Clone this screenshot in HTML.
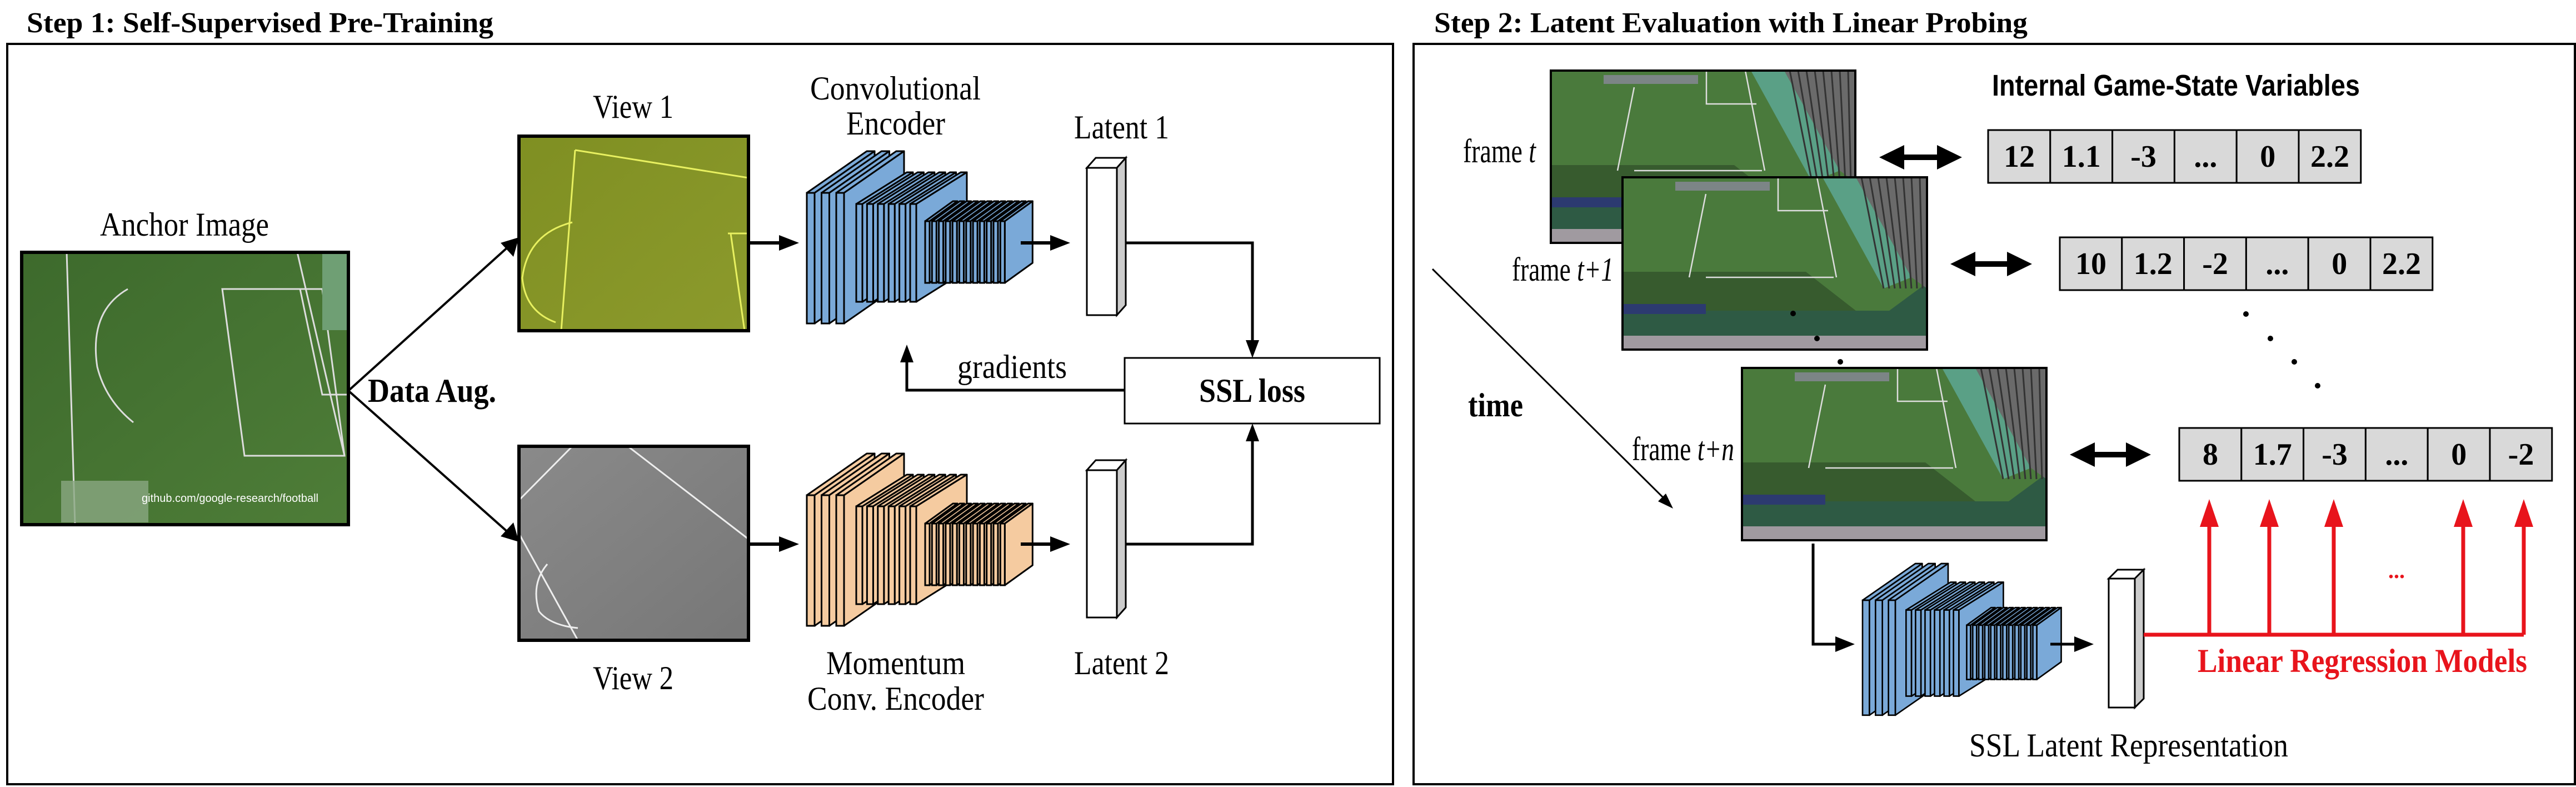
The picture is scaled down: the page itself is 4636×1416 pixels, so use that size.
<!DOCTYPE html>
<html><head><meta charset="utf-8">
<style>
html,body{margin:0;padding:0;background:#fff;}
svg{display:block;}
.t{font-family:"Liberation Serif",serif;fill:#000;}
</style></head>
<body>
<svg id="s" xmlns="http://www.w3.org/2000/svg" width="4636" height="1416" viewBox="0 0 4636 1416">
<defs>
<linearGradient id="grass" x1="0" y1="0" x2="1" y2="1"><stop offset="0" stop-color="#3d6a2c"/><stop offset="1" stop-color="#4e7d38"/></linearGradient>
<linearGradient id="v1" x1="0" y1="0" x2="1" y2="1"><stop offset="0" stop-color="#7f8f22"/><stop offset="1" stop-color="#8c9a2c"/></linearGradient>
<linearGradient id="v2" x1="0" y1="0" x2="1" y2="1"><stop offset="0" stop-color="#8a8a8a"/><stop offset="1" stop-color="#777"/></linearGradient>
</defs>

<text class="t" x="48" y="58" font-size="52" font-weight="bold" textLength="840" lengthAdjust="spacingAndGlyphs">Step 1: Self-Supervised Pre-Training</text>
<text class="t" x="2581" y="58" font-size="52" font-weight="bold" textLength="1068" lengthAdjust="spacingAndGlyphs">Step 2: Latent Evaluation with Linear Probing</text>

<rect x="13" y="79" width="2494" height="1332" fill="none" stroke="#000" stroke-width="4"/>
<rect x="2544" y="79" width="2090" height="1332" fill="none" stroke="#000" stroke-width="4"/>

<g>
<rect x="39" y="454" width="588" height="490" fill="url(#grass)"/>
<path d="M120,454 L135,944" stroke="#ddd" stroke-width="3" fill="none"/>
<path d="M230,520 Q160,560 175,660 Q190,720 240,760" stroke="#ddd" stroke-width="3" fill="none"/>
<path d="M400,520 L440,820 L620,820 L580,520 Z" stroke="#ddd" stroke-width="3" fill="none"/>
<path d="M540,520 L580,710 L626,710" stroke="#ddd" stroke-width="3" fill="none"/>
<path d="M535,454 L620,820" stroke="#ddd" stroke-width="3" fill="none"/>
<rect x="580" y="454" width="47" height="140" fill="#6f9f74"/>
<rect x="110" y="865" width="157" height="75" fill="#8aa882" opacity="0.8"/>
<text x="255" y="903" font-family="Liberation Sans,sans-serif" font-size="20" fill="#fff">github.com/google-research/football</text>
<rect x="39" y="454" width="588" height="490" fill="none" stroke="#000" stroke-width="6"/>
</g>
<text class="t" x="180" y="424" font-size="60" textLength="304" lengthAdjust="spacingAndGlyphs">Anchor Image</text>

<rect x="934" y="245" width="413" height="350" fill="url(#v1)"/>
<path d="M1035,270 L1010,595 M1035,270 L1347,320 M1030,400 Q950,420 940,500 Q945,560 1000,580 M1310,420 L1347,420 M1315,420 L1340,595" stroke="#e8f060" stroke-width="3" fill="none"/>
<rect x="934" y="245" width="413" height="350" fill="none" stroke="#000" stroke-width="6"/>
<text class="t" x="1067" y="212" font-size="60" textLength="145" lengthAdjust="spacingAndGlyphs">View 1</text>

<rect x="934" y="803" width="413" height="349" fill="url(#v2)"/>
<path d="M934,900 L1030,803 M1130,803 L1347,970 M934,960 L1040,1152 M985,1015 Q955,1050 970,1100 Q990,1125 1040,1130" stroke="#eee" stroke-width="3" fill="none"/>
<rect x="934" y="803" width="413" height="349" fill="none" stroke="#000" stroke-width="6"/>
<text class="t" x="1067" y="1240" font-size="60" textLength="145" lengthAdjust="spacingAndGlyphs">View 2</text>

<line x1="627" y1="703" x2="918" y2="441" stroke="#000" stroke-width="4"/>
<line x1="627" y1="703" x2="918" y2="961" stroke="#000" stroke-width="4"/>
<path d="M934,427 L924,462 L901,437Z" fill="#000"/>
<path d="M934,975 L901,965 L924,940Z" fill="#000"/>
<text class="t" x="662" y="723" font-size="60" font-weight="bold" textLength="231" lengthAdjust="spacingAndGlyphs">Data Aug.</text>

<g id="encB" transform="translate(1452,272)"></g>
<g id="encO" transform="translate(1452,816)"></g>
<g id="encR" transform="translate(3352,1014) scale(0.88)"></g>

<text class="t" x="1458" y="179" font-size="60" textLength="307" lengthAdjust="spacingAndGlyphs">Convolutional</text>
<text class="t" x="1523" y="242" font-size="60" textLength="178" lengthAdjust="spacingAndGlyphs">Encoder</text>
<text class="t" x="1487" y="1213" font-size="60" textLength="250" lengthAdjust="spacingAndGlyphs">Momentum</text>
<text class="t" x="1453" y="1277" font-size="60" textLength="318" lengthAdjust="spacingAndGlyphs">Conv. Encoder</text>

<g stroke="#000" stroke-width="6" fill="none">
<line x1="1349" y1="437" x2="1404" y2="437"/><line x1="1349" y1="979" x2="1404" y2="979"/>
<line x1="1837" y1="437" x2="1892" y2="437"/><line x1="1837" y1="979" x2="1892" y2="979"/>
</g>
<g fill="#000">
<path d="M1402,423 L1438,437 L1402,451Z"/><path d="M1402,965 L1438,979 L1402,993Z"/>
<path d="M1890,423 L1926,437 L1890,451Z"/><path d="M1890,965 L1926,979 L1890,993Z"/>
</g>

<g stroke="#000" stroke-width="3">
<path d="M1956,302 L1972,284 L2026,284 L2010,302Z" fill="#fff"/>
<path d="M2010,302 L2026,284 L2026,549 L2010,567Z" fill="#ccc"/>
<rect x="1956" y="302" width="54" height="265" fill="#fff"/>
<path d="M1956,846 L1972,828 L2026,828 L2010,846Z" fill="#fff"/>
<path d="M2010,846 L2026,828 L2026,1093 L2010,1111Z" fill="#ccc"/>
<rect x="1956" y="846" width="54" height="265" fill="#fff"/>
</g>
<text class="t" x="1933" y="249" font-size="60" textLength="171" lengthAdjust="spacingAndGlyphs">Latent 1</text>
<text class="t" x="1933" y="1213" font-size="60" textLength="171" lengthAdjust="spacingAndGlyphs">Latent 2</text>

<g stroke="#000" stroke-width="5" fill="none">
<polyline points="2026,437 2254,437 2254,615"/>
<polyline points="2026,979 2254,979 2254,792"/>
<polyline points="2024,702 1632,702 1632,650"/>
</g>
<g fill="#000">
<path d="M2242,612 L2254,644 L2266,612Z"/>
<path d="M2242,794 L2254,762 L2266,794Z"/>
<path d="M1620,652 L1632,620 L1644,652Z"/>
</g>
<rect x="2024" y="644" width="459" height="118" fill="#fff" stroke="#000" stroke-width="3"/>
<text class="t" x="2158" y="723" font-size="60" font-weight="bold" textLength="191" lengthAdjust="spacingAndGlyphs">SSL loss</text>
<text class="t" x="1723" y="680" font-size="60" textLength="197" lengthAdjust="spacingAndGlyphs">gradients</text>

<g id="frames"></g>

<text class="t" x="2633" y="292" font-size="60" textLength="131" lengthAdjust="spacingAndGlyphs">frame <tspan font-style="italic">t</tspan></text>
<text class="t" x="2721" y="505" font-size="60" textLength="183" lengthAdjust="spacingAndGlyphs">frame <tspan font-style="italic">t+1</tspan></text>
<text class="t" x="2937" y="828" font-size="60" textLength="184" lengthAdjust="spacingAndGlyphs">frame <tspan font-style="italic">t+n</tspan></text>
<text class="t" x="2642" y="749" font-size="60" font-weight="bold" textLength="99" lengthAdjust="spacingAndGlyphs">time</text>
<line x1="2578" y1="484" x2="3000" y2="902" stroke="#000" stroke-width="3"/>
<path d="M3011,915 L2984,902 L2998,888Z" fill="#000"/>

<g fill="#000">
<circle cx="3227" cy="564" r="5"/><circle cx="3270" cy="609" r="5"/><circle cx="3312" cy="651" r="5"/>
<circle cx="4042" cy="565" r="5"/><circle cx="4086" cy="609" r="5"/><circle cx="4129" cy="651" r="5"/><circle cx="4171" cy="694" r="5"/>
</g>

<text x="3585" y="172" font-family="Liberation Sans,sans-serif" font-size="54" font-weight="bold" textLength="662" lengthAdjust="spacingAndGlyphs">Internal Game-State Variables</text>

<g id="cells"></g>
<g id="darr"></g>

<polyline points="3263,978 3263,1159 3305,1159" stroke="#000" stroke-width="5" fill="none"/>
<path d="M3303,1145 L3338,1159 L3303,1173Z" fill="#000"/>
<line x1="3690" y1="1159" x2="3735" y2="1159" stroke="#000" stroke-width="5"/>
<path d="M3733,1145 L3768,1159 L3733,1173Z" fill="#000"/>
<g stroke="#000" stroke-width="3">
<path d="M3795,1041 L3811,1025 L3858,1025 L3842,1041Z" fill="#fff"/>
<path d="M3842,1041 L3858,1025 L3858,1257 L3842,1273Z" fill="#ccc"/>
<rect x="3795" y="1041" width="47" height="232" fill="#fff"/>
</g>
<text class="t" x="3544" y="1361" font-size="60" textLength="574" lengthAdjust="spacingAndGlyphs">SSL Latent Representation</text>

<g stroke="#e8141c" stroke-width="7" fill="none">
<polyline points="3858,1142 4542,1142"/>
<line x1="3976" y1="1142" x2="3976" y2="940"/><line x1="4084" y1="1142" x2="4084" y2="940"/><line x1="4200" y1="1142" x2="4200" y2="940"/><line x1="4433" y1="1142" x2="4433" y2="940"/><line x1="4542" y1="1142" x2="4542" y2="940"/>
</g>
<g fill="#e8141c">
<path d="M3959,948 L3976,898 L3993,948Z"/><path d="M4067,948 L4084,898 L4101,948Z"/><path d="M4183,948 L4200,898 L4217,948Z"/><path d="M4416,948 L4433,898 L4450,948Z"/><path d="M4525,948 L4542,898 L4559,948Z"/>
</g>
<text x="4298" y="1040" font-family="Liberation Serif,serif" font-size="40" font-weight="bold" fill="#e8141c">...</text>
<text x="3955" y="1209" font-family="Liberation Serif,serif" font-size="60" font-weight="bold" fill="#e8141c" textLength="593" lengthAdjust="spacingAndGlyphs">Linear Regression Models</text>
</svg>
<script>
var NS="http://www.w3.org/2000/svg";
function el(p,tag,a){var e=document.createElementNS(NS,tag);for(var k in a)e.setAttribute(k,a[k]);p.appendChild(e);return e;}
function enc(id,col){
 var g=document.getElementById(id);
 var groups=[[3,0,26.5,14,75,235,108,75],[6,89,19.4,11,95,176,91,57],[12,213,12.3,8,126,111,50,36]];
 groups.forEach(function(G){
  for(var i=0;i<G[0];i++){
   var x=G[1]+i*G[2],w=G[3],t=G[4],h=G[5],dx=G[6],dy=G[7];
   var st={fill:col,stroke:"#000","stroke-width":3,"stroke-linejoin":"round"};
   st.d="M"+x+","+t+" L"+(x+dx)+","+(t-dy)+" L"+(x+w+dx)+","+(t-dy)+" L"+(x+w)+","+t+"Z";el(g,"path",st);
   st.d="M"+(x+w)+","+t+" L"+(x+w+dx)+","+(t-dy)+" L"+(x+w+dx)+","+(t-dy+h)+" L"+(x+w)+","+(t+h)+"Z";el(g,"path",st);
   el(g,"rect",{x:x,y:t,width:w,height:h,fill:col,stroke:"#000","stroke-width":3});
  }
 });
}
enc("encB","#7aa9d8");enc("encO","#f5cba0");enc("encR","#7aa9d8");
function frame(x,y){
 var g=el(document.getElementById("frames"),"g",{transform:"translate("+x+","+y+")"});
 var W=548,H=310;
 el(g,"rect",{x:0,y:0,width:W,height:H,fill:"#4a7a3c"});
 el(g,"path",{d:"M0,170 L330,170 L420,240 L0,240Z",fill:"#2f4f28",opacity:"0.7"});
 el(g,"path",{d:"M0,240 L480,240 L548,190 L548,310 L0,310Z",fill:"#2e5a44"});
 el(g,"rect",{x:0,y:285,width:W,height:25,fill:"#a09aa0"});
 el(g,"path",{d:"M360,0 L420,0 L520,180 L470,200 Z",fill:"#5aa086"});
 el(g,"path",{d:"M420,0 L548,0 L548,200 L520,180 Z",fill:"#6a6a6a"});
 for(var i=0;i<8;i++){el(g,"line",{x1:430+i*15,y1:0,x2:470+i*10,y2:200,stroke:"#333","stroke-width":3});}
 el(g,"rect",{x:0,y:228,width:150,height:18,fill:"#2c3a70"});
 el(g,"path",{d:"M150,30 L120,180 M150,180 L380,180 M350,0 L385,180 M280,0 L280,60 L370,60",stroke:"#ddd","stroke-width":2.5,fill:"none"});
 el(g,"rect",{x:95,y:8,width:170,height:16,fill:"#889",opacity:"0.8"});
 el(g,"rect",{x:0,y:0,width:W,height:H,fill:"none",stroke:"#000","stroke-width":4});
}
frame(2791,127);frame(2920,319);frame(3135,662);
function row(x,y,vals){
 var g=document.getElementById("cells");
 for(var i=0;i<6;i++){
  el(g,"rect",{x:x+i*111.8,y:y,width:111.8,height:95,fill:"#d9d9d9",stroke:"#000","stroke-width":3});
  var t=el(g,"text",{x:x+i*111.8+56,y:y+66,"text-anchor":"middle","font-family":"Liberation Serif,serif","font-size":56,"font-weight":"bold"});
  t.textContent=vals[i];
 }
}
row(3578,234,["12","1.1","-3","...","0","2.2"]);
row(3707,427,["10","1.2","-2","...","0","2.2"]);
row(3922,770,["8","1.7","-3","...","0","-2"]);
function darr(x1,x2,y){
 var g=document.getElementById("darr");
 el(g,"line",{x1:x1+30,y1:y,x2:x2-30,y2:y,stroke:"#000","stroke-width":10});
 el(g,"path",{d:"M"+x1+","+y+" L"+(x1+45)+","+(y-22)+" L"+(x1+45)+","+(y+22)+"Z",fill:"#000"});
 el(g,"path",{d:"M"+x2+","+y+" L"+(x2-45)+","+(y-22)+" L"+(x2-45)+","+(y+22)+"Z",fill:"#000"});
}
darr(3382,3531,283);darr(3510,3657,475);darr(3725,3871,818);
</script>
</body></html>
